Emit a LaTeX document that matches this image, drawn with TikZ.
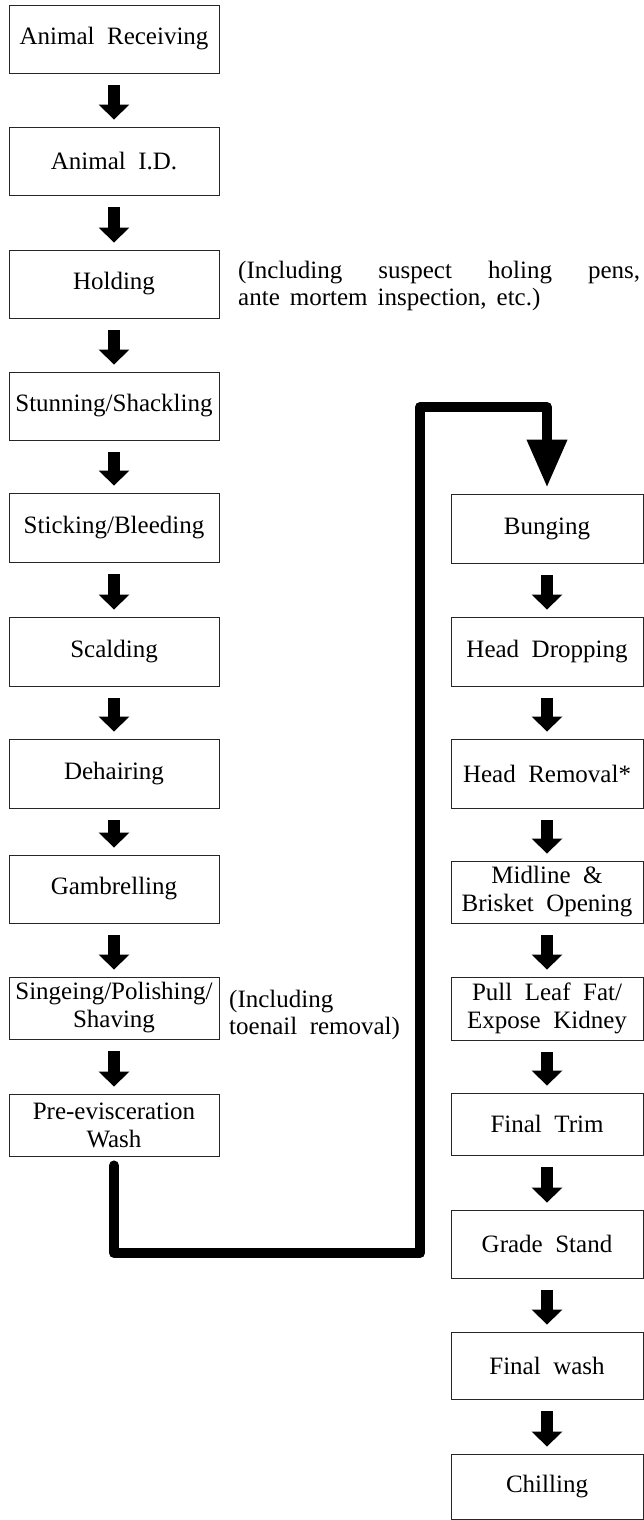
\documentclass[tikz,border=0pt]{standalone}
\usepackage{fontspec}
\setmainfont{Liberation Serif}[WordSpace=2]
\newfontfamily\notefont{Liberation Serif}[WordSpace=1.6]
\usetikzlibrary{arrows.meta}
\begin{document}
\begin{tikzpicture}[x=1pt,y=-1pt,
  box/.style={draw=black!85, line width=0.9pt, inner sep=0pt, align=center,
    font=\fontsize{25}{28}\selectfont},
  lbox/.style={box, minimum width=210pt},
  rbox/.style={box, minimum width=192pt},
  flow/.style={line width=12pt, -{Triangle[width=30pt,length=15pt]}},
  bigflow/.style={line width=10pt, line join=round, line cap=round,
    -{Triangle[width=38pt,length=48pt]}},
  note/.style={font=\fontsize{25}{27}\selectfont, inner sep=0pt, align=left, anchor=west}
]
\useasboundingbox (0,0) rectangle (644,1520);

% left column
\node[lbox, minimum height=68pt] (n1) at (114,39) {Animal Receiving};
\node[lbox, minimum height=68pt] (n2) at (114,161) {Animal I.D.};
\node[lbox, minimum height=68pt] (n3) at (114,284) {Holding};
\node[lbox, minimum height=68pt] (n4) at (114,406) {Stunning/Shackling};
\node[lbox, minimum height=69pt] (n5) at (114,527.5) {Sticking/Bleeding};
\node[lbox, minimum height=69pt] (n6) at (114,651.5) {Scalding};
\node[lbox, minimum height=69pt] (n7) at (114,773.5) {Dehairing};
\node[lbox, minimum height=68pt] (n8) at (114,889) {Gambrelling};
\node[lbox, minimum height=62pt] (n9) at (114,1008) {Singeing/Polishing/\\Shaving};
\node[lbox, minimum height=62pt] (n10) at (114,1125) {Pre-evisceration\\Wash};

% right column
\node[rbox, minimum height=69pt] (r1) at (547,528.5) {Bunging};
\node[rbox, minimum height=69pt] (r2) at (547,651.5) {Head Dropping};
\node[rbox, minimum height=69pt] (r3) at (547,773.5) {Head Removal*};
\node[rbox, minimum height=62pt] (r4) at (547,892) {Midline \&\\Brisket Opening};
\node[rbox, minimum height=63pt] (r5) at (547,1008.5) {Pull Leaf Fat/\\Expose Kidney};
\node[rbox, minimum height=62pt] (r6) at (547,1124) {Final Trim};
\node[rbox, minimum height=68pt] (r7) at (547,1244) {Grade Stand};
\node[rbox, minimum height=67pt] (r8) at (547,1365.5) {Final wash};
\node[rbox, minimum height=65pt] (r9) at (547,1486.5) {Chilling};

% notes
\node[note] (a1) at (238,286) {\makebox[402pt][s]{(Including\hfill suspect\hfill holing\hfill pens,}\\{\notefont ante mortem inspection, etc.)}};
\node[note] (a2) at (229,1015) {(Including\\toenail removal)};

% small arrows
\foreach \a/\b in {n1/n2,n2/n3,n3/n4,n4/n5,n5/n6,n6/n7,n7/n8,n8/n9,n9/n10,
                   r1/r2,r2/r3,r3/r4,r4/r5,r5/r6,r6/r7,r7/r8,r8/r9}
  \draw[flow] ([yshift=-12pt]\a.south) -- ([yshift=7pt]\b.north);

% big connector
\coordinate (c1) at (420,1253);
\coordinate (c2) at (420,407);
\draw[bigflow] ([yshift=-9pt]n10.south) |- (c1) -- (c2) -| ([yshift=6pt]r1.north);
\end{tikzpicture}
\end{document}
